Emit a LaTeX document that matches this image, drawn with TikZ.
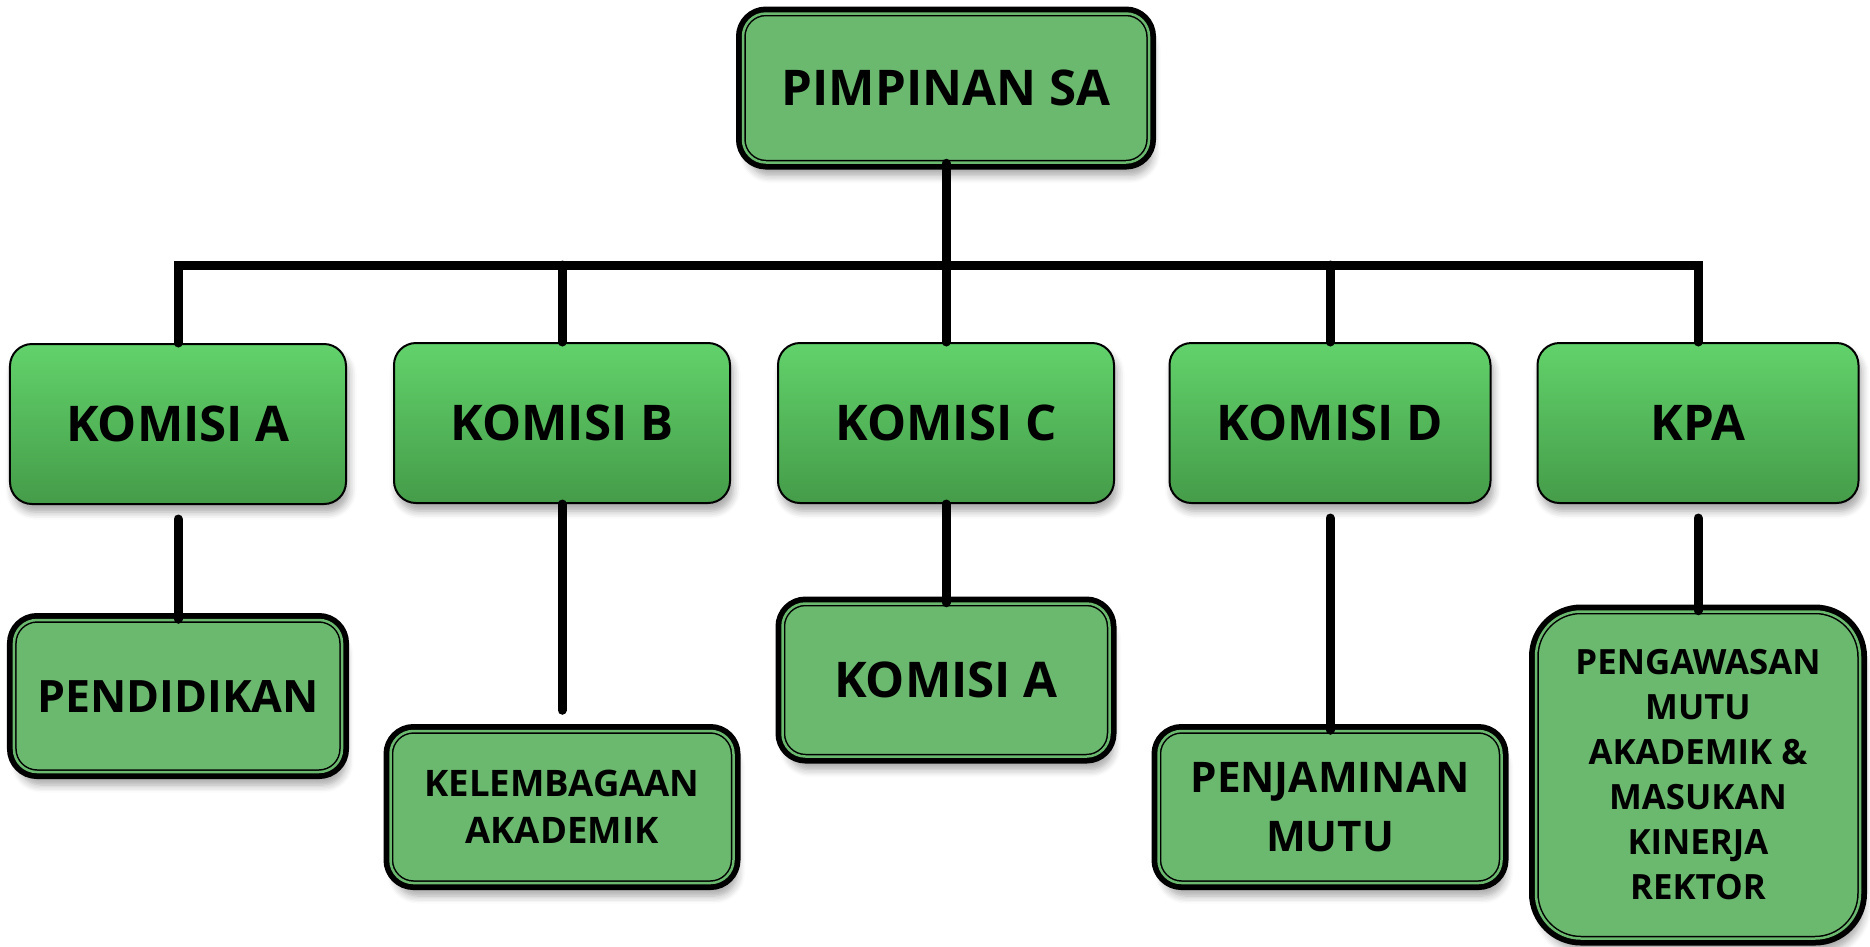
\documentclass[tikz,border=0pt]{standalone}
\usepackage{fontspec}
\setmainfont{Open Sans}
\usetikzlibrary{shadows.blur}

\definecolor{unitgreen}{HTML}{6BB86F}
\definecolor{komtop}{HTML}{62D26B}
\definecolor{kombot}{HTML}{459C49}

\begin{document}
\begin{tikzpicture}[x=1mm,y=-1mm,
  link/.style={line width=.9mm,line cap=round},
  unitbox/.style={rounded corners=2.3mm,fill=unitgreen,draw=black,line width=.15mm,
    double=unitgreen,double distance=.25mm,
    blur shadow={shadow xshift=.4mm,shadow yshift=-1.3mm,shadow opacity=35,shadow blur steps=6},
    preaction={draw=black,line width=1.4mm},
    inner sep=0pt,align=center,font=\bfseries\fontsize{14}{17}\selectfont},
  komisibox/.style={rounded corners=2.2mm,top color=komtop,bottom color=kombot,draw=black,line width=.2mm,
    blur shadow={shadow xshift=.3mm,shadow yshift=-.8mm,shadow opacity=35,shadow blur steps=5},
    minimum width=33.6mm,minimum height=16mm,inner sep=0pt,font=\bfseries\fontsize{14}{17}\selectfont}]
\path[use as bounding box] (0,0) rectangle (187,94.6);

\node[unitbox,minimum width=40.6mm,minimum height=14.9mm] (sa) at (94.6,8.8) {PIMPINAN SA};
\coordinate (bus) at (94.6,26.5);

\node[komisibox] (ka) at (17.8,42.4) {KOMISI A};
\node[komisibox] (kb) at (56.2,42.3) {KOMISI B};
\node[komisibox] (kc) at (94.6,42.3) {KOMISI C};
\node[komisibox,minimum width=32.1mm] (kd) at (133.0,42.3) {KOMISI D};
\node[komisibox,minimum width=32.1mm] (kpa) at (169.8,42.3) {KPA};

\node[unitbox,minimum width=32.8mm,minimum height=15.2mm,font=\bfseries\fontsize{12.7}{15}\selectfont] (pend) at (17.8,69.6) {PENDIDIKAN};
\node[unitbox,minimum width=34.3mm,minimum height=15.2mm,font=\bfseries\fontsize{10.4}{13.4}\selectfont] (kel) at (56.2,80.7) {KELEMBAGAAN\\AKADEMIK};
\node[unitbox,minimum width=32.7mm,minimum height=15.3mm] (ka2) at (94.6,68.0) {KOMISI A};
\node[unitbox,minimum width=34.3mm,minimum height=15.2mm,font=\bfseries\fontsize{12}{17}\selectfont] (pjm) at (133.0,80.7) {PENJAMINAN\\MUTU};
\node[unitbox,rounded corners=4.5mm,minimum width=32.4mm,minimum height=32.7mm,font=\bfseries\fontsize{9.9}{12.8}\selectfont] (pmak) at (169.8,77.5) {PENGAWASAN\\MUTU\\AKADEMIK \&\\MASUKAN\\KINERJA\\REKTOR};

\draw[link] (sa) -- (bus);
\draw[link,line join=miter] (ka.north) -- (ka.north |- bus) -- (kpa.north |- bus) -- (kpa.north);
\foreach \k in {kb,kc,kd}
  \draw[link] (\k.north |- bus) -- (\k.north);

\draw[link,shorten <=1.4mm] (ka) -- (pend);
\draw[link,shorten >=2mm] (kb) -- (kel);
\draw[link] (kc) -- (ka2);
\draw[link,shorten <=1.4mm] (kd) -- (pjm);
\draw[link,shorten <=1.4mm] (kpa) -- (pmak);
\end{tikzpicture}
\end{document}
